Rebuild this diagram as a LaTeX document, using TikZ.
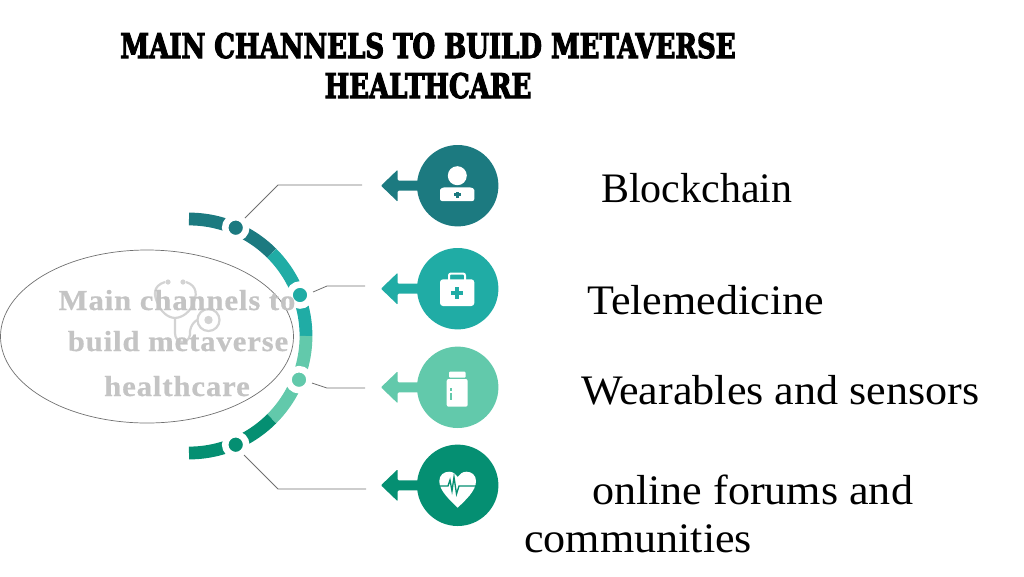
\documentclass[tikz,border=0pt]{standalone}
\usepackage{fontspec}
\usetikzlibrary{shapes.geometric}
\setmainfont{Liberation Serif}
\newfontfamily\titlefont[FakeBold=3,FakeStretch=0.85]{DejaVu Serif Condensed Bold}
\newfontfamily\centrefont[LetterSpace=3,FakeStretch=1.06,FakeBold=0.6]{Liberation Serif Bold}
\newfontfamily\labelfont[FakeStretch=1.05]{Liberation Serif}
\newfontfamily\labelnarrow{Liberation Serif}
\definecolor{cA}{HTML}{1C7A80}
\definecolor{cB}{HTML}{20ACA5}
\definecolor{cC}{HTML}{62C9AB}
\definecolor{cD}{HTML}{058F72}
\definecolor{centretext}{HTML}{C4C4C4}
\definecolor{leader}{HTML}{707070}
\tikzset{
  x=1pt,y=-1pt,
  titletext/.style={font=\titlefont\fontsize{34}{34}\selectfont,text=black,inner sep=0pt,anchor=base},
  centretextstyle/.style={font=\centrefont\fontsize{29}{29}\selectfont,text=centretext,inner sep=0pt,anchor=base},
  labeltext/.style={font=\labelfont\fontsize{42}{42}\selectfont,text=black,inner sep=0pt,anchor=base west},
  disc/.style={circle,fill=#1,minimum size=81.4pt,inner sep=0pt},
  dot/.style={circle,fill=#1,draw=white,line width=6.5pt,minimum size=21pt,inner sep=0pt},
  leaderline/.style={draw=leader,line width=0.8pt},
  band/.style={draw=#1,line width=12.8pt},
  icon/.style={fill=white,draw=none},
}
\begin{document}
\begin{tikzpicture}
\useasboundingbox (0,0) rectangle (1024,576);
% title
\node[titletext] (t1) at (428,58) {MAIN CHANNELS TO BUILD METAVERSE};
\node[titletext] (t2) at (428,98) {HEALTHCARE};
% ellipse
\node[draw=leader,line width=0.7pt,ellipse,minimum width=293pt,minimum height=173pt,inner sep=0pt] (ell) at (147,336.5) {};
% stethoscope
\begin{scope}[draw=centretext!75!white,line width=2.2pt,fill=centretext!75!white]
\fill (168,282) circle[radius=2.6pt] (183,282) circle[radius=2.6pt];
\draw (165,282) .. controls (152,286) and (154,296) .. (158,304) .. controls (163,316) and (172,318) .. (175,318);
\draw (186,282) .. controls (198,286) and (197,296) .. (193,304) .. controls (188,316) and (178,318) .. (175,318);
\draw (175,318) -- (175,333) .. controls (175,344) and (188,345) .. (190,335) -- (190,331) .. controls (191,325) and (194,322) .. (197,320);
\draw (208.5,320) circle[radius=11pt];
\fill (208.5,320) circle[radius=4.2pt];
\end{scope}
% arc
\draw[band=cA] plot[domain=90:45,samples=30] ({189+117*cos(\x)},{336-117*sin(\x)});
\draw[band=cB] plot[domain=45:0,samples=30] ({189+117*cos(\x)},{336-117*sin(\x)});
\draw[band=cC] plot[domain=0:-45,samples=30] ({189+117*cos(\x)},{336-117*sin(\x)});
\draw[band=cD] plot[domain=-45:-90,samples=30] ({189+117*cos(\x)},{336-117*sin(\x)});
% dots
\node[dot=cA] (d1) at (235.7,227.7) {};
\node[dot=cB] (d2) at (300,295) {};
\node[dot=cC] (d3) at (299,379.7) {};
\node[dot=cD] (d4) at (235.7,444.7) {};
% centre text
\node[centretextstyle] (c1) at (177,310) {Main channels to};
\node[centretextstyle] (c2) at (178,351) {build metaverse};
\node[centretextstyle] (c3) at (177,396) {healthcare};
% leaders
\coordinate (l1s) at (245,218); \coordinate (l1m) at (278,185); \coordinate (l1e) at (362,185);
\coordinate (l2s) at (313,292); \coordinate (l2m) at (327,286); \coordinate (l2e) at (365,286);
\coordinate (l3s) at (312,383); \coordinate (l3m) at (327,388); \coordinate (l3e) at (365,388);
\coordinate (l4s) at (244,455); \coordinate (l4m) at (278,489); \coordinate (l4e) at (366,489);
\draw[leaderline] (l1s) -- (l1m) -- (l1e);
\draw[leaderline] (l2s) -- (l2m) -- (l2e);
\draw[leaderline] (l3s) -- (l3m) -- (l3e);
\draw[leaderline] (l4s) -- (l4m) -- (l4e);
% arrows + discs
\foreach \yy/\cc/\nn in {185.7/cA/n1,288.7/cB/n2,387.3/cC/n3,485.3/cD/n4}{
  \fill[\cc,rounded corners=1pt] (381,\yy) -- (397.7,\yy-16) -- (397.7,\yy-5) -- (425,\yy-5) -- (425,\yy+5) -- (397.7,\yy+5) -- (397.7,\yy+16) -- cycle;
  \node[disc=\cc] (\nn) at (457.7,\yy) {};
}
% person icon
\fill[icon] (457.3,175.7) circle[radius=9.5pt];
\fill[icon,rounded corners=2pt] (440,201) -- (440,192) .. controls (440,188.5) and (443,187.5) .. (446,187.3) -- (468,187.3) .. controls (472,187.5) and (474.3,188.5) .. (474.3,192) -- (474.3,201) -- cycle;
\fill[cA] (455.7,191.5) rectangle (458.9,198);
\fill[cA] (454,193.2) rectangle (460.6,196.2);
% case icon
\draw[white,line width=2pt,rounded corners=2pt] (449,281) -- (449,273.5) -- (465,273.5) -- (465,281);
\fill[icon,rounded corners=3pt] (440,279.3) rectangle (474.3,306);
\fill[cB] (454.7,287.3) rectangle (458.7,299.3);
\fill[cB] (450.7,291.3) rectangle (462.7,295.3);
% bottle icon
\fill[icon,rounded corners=1pt] (449,371.7) rectangle (465.7,377.7);
\fill[icon,rounded corners=2pt] (446.7,379) rectangle (467.7,406.7);
\fill[cC] (450,388) rectangle (452,391);
\fill[cC] (450,393) rectangle (452,400);
% heart icon
\fill[icon] (457.7,507.7) .. controls (450,500) and (439.3,491) .. (439.3,481) .. controls (439.3,475) and (444,471.7) .. (449,471.7) .. controls (453,471.7) and (456,474) .. (457.7,477) .. controls (459.5,474) and (462.5,471.7) .. (466.5,471.7) .. controls (471.5,471.7) and (476,475) .. (476,481) .. controls (476,491) and (465.5,500) .. (457.7,507.7) -- cycle;
\draw[cD,line width=1.3pt] (439,486) -- (448,486) -- (450,480) -- (452,491) -- (454,477) -- (456.5,494) -- (459,486) -- (477,486);
% labels
\node[labeltext,font=\labelnarrow\fontsize{42}{42}\selectfont] (a) at (601,202) {Blockchain};
\node[labeltext] (b) at (587,314) {Telemedicine};
\node[labeltext] (e) at (581,404) {Wearables and sensors};
\node[labeltext] (f) at (592,504) {online forums and};
\node[labeltext] (g) at (524,552) {communities};
\end{tikzpicture}
\end{document}
